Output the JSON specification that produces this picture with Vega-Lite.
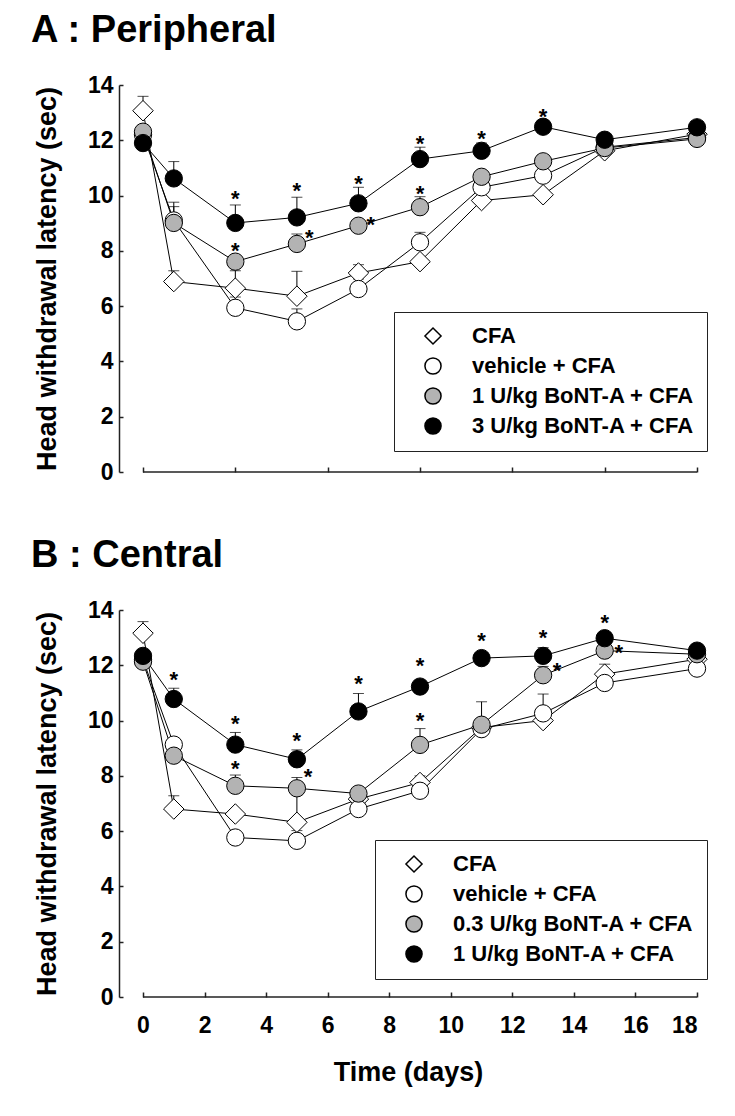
{
  "$schema": "https://vega.github.io/schema/vega-lite/v6.json",
  "background": "white",
  "padding": {"left": 31, "top": 12, "right": 20, "bottom": 10},
  "spacing": 53,
  "config": {
    "view": {"stroke": null},
    "font": "Liberation Sans",
    "axis": {"grid": false, "domainColor": "#222", "domainWidth": 1.5, "tickColor": "#222", "tickWidth": 1.5,
      "labelFont": "Liberation Sans", "labelFontWeight": "bold", "labelFontSize": 23, "labelColor": "black",
      "titleFont": "Liberation Sans", "titleFontWeight": "bold", "titleFontSize": 27, "titleColor": "black"},
    "legend": {"labelFont": "Liberation Sans", "labelFontSize": 22, "labelFontWeight": "bold", "labelColor": "black", "labelLimit": 400},
    "title": {"font": "Liberation Sans", "fontWeight": "bold", "fontSize": 38, "color": "black", "anchor": "start", "frame": "group", "dx": -88, "offset": 24}
  },
  "vconcat": [
    {
      "title": {"text": "A : Peripheral"},
      "width": 578,
      "height": 387,
      "data": {"values": [
        {"series": "CFA", "day": 0, "mean": 13.07, "upper": 13.59},
        {"series": "CFA", "day": 1, "mean": 6.89, "upper": 7.28},
        {"series": "CFA", "day": 3, "mean": 6.65, "upper": 7.28},
        {"series": "CFA", "day": 5, "mean": 6.36, "upper": 7.26},
        {"series": "CFA", "day": 7, "mean": 7.2, "upper": 7.5},
        {"series": "CFA", "day": 9, "mean": 7.61, "upper": null},
        {"series": "CFA", "day": 11, "mean": 9.82, "upper": null},
        {"series": "CFA", "day": 13, "mean": 10.03, "upper": null},
        {"series": "CFA", "day": 15, "mean": 11.62, "upper": null},
        {"series": "CFA", "day": 18, "mean": 12.22, "upper": null},
        {"series": "vehicle + CFA", "day": 0, "mean": 12.2, "upper": null},
        {"series": "vehicle + CFA", "day": 1, "mean": 9.1, "upper": 9.6},
        {"series": "vehicle + CFA", "day": 3, "mean": 5.94, "upper": 6.33},
        {"series": "vehicle + CFA", "day": 5, "mean": 5.45, "upper": 5.9},
        {"series": "vehicle + CFA", "day": 7, "mean": 6.62, "upper": 6.98},
        {"series": "vehicle + CFA", "day": 9, "mean": 8.31, "upper": 8.67},
        {"series": "vehicle + CFA", "day": 11, "mean": 10.3, "upper": null},
        {"series": "vehicle + CFA", "day": 13, "mean": 10.72, "upper": null},
        {"series": "vehicle + CFA", "day": 15, "mean": 11.75, "upper": null},
        {"series": "vehicle + CFA", "day": 18, "mean": 12.1, "upper": null},
        {"series": "1 U/kg BoNT-A + CFA", "day": 0, "mean": 12.31, "upper": null},
        {"series": "1 U/kg BoNT-A + CFA", "day": 1, "mean": 9.01, "upper": 9.76},
        {"series": "1 U/kg BoNT-A + CFA", "day": 3, "mean": 7.61, "upper": null},
        {"series": "1 U/kg BoNT-A + CFA", "day": 5, "mean": 8.25, "upper": 8.61},
        {"series": "1 U/kg BoNT-A + CFA", "day": 7, "mean": 8.91, "upper": null},
        {"series": "1 U/kg BoNT-A + CFA", "day": 9, "mean": 9.58, "upper": 9.96},
        {"series": "1 U/kg BoNT-A + CFA", "day": 11, "mean": 10.68, "upper": null},
        {"series": "1 U/kg BoNT-A + CFA", "day": 13, "mean": 11.24, "upper": null},
        {"series": "1 U/kg BoNT-A + CFA", "day": 15, "mean": 11.72, "upper": null},
        {"series": "1 U/kg BoNT-A + CFA", "day": 18, "mean": 12.05, "upper": null},
        {"series": "3 U/kg BoNT-A + CFA", "day": 0, "mean": 11.9, "upper": null},
        {"series": "3 U/kg BoNT-A + CFA", "day": 1, "mean": 10.62, "upper": 11.23},
        {"series": "3 U/kg BoNT-A + CFA", "day": 3, "mean": 9.01, "upper": 9.66},
        {"series": "3 U/kg BoNT-A + CFA", "day": 5, "mean": 9.21, "upper": 9.94},
        {"series": "3 U/kg BoNT-A + CFA", "day": 7, "mean": 9.72, "upper": 10.3},
        {"series": "3 U/kg BoNT-A + CFA", "day": 9, "mean": 11.32, "upper": 11.75},
        {"series": "3 U/kg BoNT-A + CFA", "day": 11, "mean": 11.62, "upper": 11.9},
        {"series": "3 U/kg BoNT-A + CFA", "day": 13, "mean": 12.49, "upper": 12.7},
        {"series": "3 U/kg BoNT-A + CFA", "day": 15, "mean": 12.02, "upper": null},
        {"series": "3 U/kg BoNT-A + CFA", "day": 18, "mean": 12.47, "upper": null}
      ]},
      "layer": [
        {"mark": {"type": "line", "color": "black", "strokeWidth": 1},
         "encoding": {
           "x": {"field": "day", "type": "quantitative", "scale": {"domain": [-0.78, 18], "nice": false, "zero": false},
                 "axis": {"title": null, "domain": false, "labels": false, "values": [0, 3, 6, 9, 12, 15, 18], "tickSize": -5}},
           "y": {"field": "mean", "type": "quantitative", "scale": {"domain": [0, 14], "nice": false},
                 "axis": {"title": "Head withdrawal latency (sec)", "values": [0, 2, 4, 6, 8, 10, 12, 14], "tickSize": -4, "labelPadding": 10, "titlePadding": 26}},
           "detail": {"field": "series"}}},
        {"transform": [{"filter": "datum.upper != null"}],
         "mark": {"type": "rule", "color": "black", "strokeWidth": 1},
         "encoding": {"x": {"field": "day", "type": "quantitative"}, "y": {"field": "mean", "type": "quantitative"}, "y2": {"field": "upper"}}},
        {"transform": [{"filter": "datum.upper != null"}],
         "mark": {"type": "tick", "orient": "horizontal", "color": "black", "thickness": 1, "size": 11},
         "encoding": {"x": {"field": "day", "type": "quantitative"}, "y": {"field": "upper", "type": "quantitative"}}},
        {"transform": [{"filter": "datum.series === 'CFA'"}],
         "mark": {"type": "point", "filled": true, "stroke": "black", "strokeWidth": 1, "opacity": 1, "size": 420},
         "encoding": {
           "x": {"field": "day", "type": "quantitative"},
           "y": {"field": "mean", "type": "quantitative"},
           "fill": {"field": "series", "type": "nominal",
             "scale": {"domain": ["CFA", "vehicle + CFA", "1 U/kg BoNT-A + CFA", "3 U/kg BoNT-A + CFA"], "range": ["white", "white", "#b3b3b3", "black"]},
             "legend": {"orient": "none", "legendX": 275, "legendY": 227, "title": null, "padding": 13, "strokeColor": "#222", "symbolSize": 260, "rowPadding": 6, "labelOffset": 28, "symbolOffset": 15,
               "encode": {"symbols": {"update": {"stroke": {"value": "black"}, "strokeWidth": {"value": 1}}}}}},
           "shape": {"field": "series", "type": "nominal",
             "scale": {"domain": ["CFA", "vehicle + CFA", "1 U/kg BoNT-A + CFA", "3 U/kg BoNT-A + CFA"], "range": ["diamond", "circle", "circle", "circle"]},
             "legend": {"orient": "none", "legendX": 275, "legendY": 227, "title": null, "padding": 13, "strokeColor": "#222", "symbolSize": 260, "rowPadding": 6, "labelOffset": 28, "symbolOffset": 15,
               "encode": {"symbols": {"update": {"stroke": {"value": "black"}, "strokeWidth": {"value": 1}}}}}}}},
        {"transform": [{"filter": "datum.series !== 'CFA'"}],
         "mark": {"type": "point", "filled": true, "stroke": "black", "strokeWidth": 1, "opacity": 1, "size": 300},
         "encoding": {
           "x": {"field": "day", "type": "quantitative"},
           "y": {"field": "mean", "type": "quantitative"},
           "fill": {"field": "series", "type": "nominal"},
           "shape": {"field": "series", "type": "nominal"}}},
        {"data": {"values": [
           {"day": 3, "y": 10.06}, {"day": 5, "y": 10.36}, {"day": 7, "y": 10.6},
           {"day": 9, "y": 12.05}, {"day": 11, "y": 12.23}, {"day": 13, "y": 13.04},
           {"day": 3, "y": 8.19}, {"day": 5.4, "y": 8.65}, {"day": 7.4, "y": 9.15}, {"day": 9, "y": 10.24}]},
         "mark": {"type": "text", "text": "*", "fontSize": 22, "fontWeight": "bold", "color": "black", "baseline": "alphabetic", "dy": 12.5},
         "encoding": {"x": {"field": "day", "type": "quantitative"}, "y": {"field": "y", "type": "quantitative"}}},
        {"data": {"values": [{"start": 0, "end": 18, "level": 0}]},
         "mark": {"type": "rule", "color": "#222", "strokeWidth": 1.5},
         "encoding": {"x": {"field": "start", "type": "quantitative"}, "x2": {"field": "end"}, "y": {"field": "level", "type": "quantitative"}}}
      ]
    },
    {
      "title": {"text": "B : Central"},
      "width": 578,
      "height": 387,
      "data": {"values": [
        {"series": "CFA", "day": 0, "mean": 13.16, "upper": 13.58},
        {"series": "CFA", "day": 1, "mean": 6.8, "upper": 7.28},
        {"series": "CFA", "day": 3, "mean": 6.62, "upper": null},
        {"series": "CFA", "day": 5, "mean": 6.32, "upper": 7.5},
        {"series": "CFA", "day": 7, "mean": 7.16, "upper": null},
        {"series": "CFA", "day": 9, "mean": 7.76, "upper": null},
        {"series": "CFA", "day": 11, "mean": 9.75, "upper": null},
        {"series": "CFA", "day": 13, "mean": 10.0, "upper": null},
        {"series": "CFA", "day": 15, "mean": 11.68, "upper": 12.04},
        {"series": "CFA", "day": 18, "mean": 12.22, "upper": null},
        {"series": "vehicle + CFA", "day": 0, "mean": 12.2, "upper": null},
        {"series": "vehicle + CFA", "day": 1, "mean": 9.13, "upper": null},
        {"series": "vehicle + CFA", "day": 3, "mean": 5.77, "upper": null},
        {"series": "vehicle + CFA", "day": 5, "mean": 5.65, "upper": 6.02},
        {"series": "vehicle + CFA", "day": 7, "mean": 6.8, "upper": null},
        {"series": "vehicle + CFA", "day": 9, "mean": 7.46, "upper": 8.0},
        {"series": "vehicle + CFA", "day": 11, "mean": 9.69, "upper": null},
        {"series": "vehicle + CFA", "day": 13, "mean": 10.26, "upper": 10.96},
        {"series": "vehicle + CFA", "day": 15, "mean": 11.36, "upper": null},
        {"series": "vehicle + CFA", "day": 18, "mean": 11.88, "upper": null},
        {"series": "0.3 U/kg BoNT-A + CFA", "day": 0, "mean": 12.13, "upper": null},
        {"series": "0.3 U/kg BoNT-A + CFA", "day": 1, "mean": 8.73, "upper": null},
        {"series": "0.3 U/kg BoNT-A + CFA", "day": 3, "mean": 7.64, "upper": 8.03},
        {"series": "0.3 U/kg BoNT-A + CFA", "day": 5, "mean": 7.55, "upper": 7.94},
        {"series": "0.3 U/kg BoNT-A + CFA", "day": 7, "mean": 7.36, "upper": null},
        {"series": "0.3 U/kg BoNT-A + CFA", "day": 9, "mean": 9.12, "upper": 9.71},
        {"series": "0.3 U/kg BoNT-A + CFA", "day": 11, "mean": 9.85, "upper": 10.68},
        {"series": "0.3 U/kg BoNT-A + CFA", "day": 13, "mean": 11.64, "upper": 11.96},
        {"series": "0.3 U/kg BoNT-A + CFA", "day": 15, "mean": 12.53, "upper": null},
        {"series": "0.3 U/kg BoNT-A + CFA", "day": 18, "mean": 12.4, "upper": null},
        {"series": "1 U/kg BoNT-A + CFA", "day": 0, "mean": 12.34, "upper": null},
        {"series": "1 U/kg BoNT-A + CFA", "day": 1, "mean": 10.78, "upper": 11.17},
        {"series": "1 U/kg BoNT-A + CFA", "day": 3, "mean": 9.13, "upper": 9.57},
        {"series": "1 U/kg BoNT-A + CFA", "day": 5, "mean": 8.6, "upper": 8.94},
        {"series": "1 U/kg BoNT-A + CFA", "day": 7, "mean": 10.33, "upper": 10.98},
        {"series": "1 U/kg BoNT-A + CFA", "day": 9, "mean": 11.23, "upper": null},
        {"series": "1 U/kg BoNT-A + CFA", "day": 11, "mean": 12.26, "upper": null},
        {"series": "1 U/kg BoNT-A + CFA", "day": 13, "mean": 12.34, "upper": 12.64},
        {"series": "1 U/kg BoNT-A + CFA", "day": 15, "mean": 12.98, "upper": null},
        {"series": "1 U/kg BoNT-A + CFA", "day": 18, "mean": 12.53, "upper": null}
      ]},
      "layer": [
        {"mark": {"type": "line", "color": "black", "strokeWidth": 1},
         "encoding": {
           "x": {"field": "day", "type": "quantitative", "scale": {"domain": [-0.78, 18], "nice": false, "zero": false},
                 "axis": {"title": "Time (days)", "domain": false, "values": [0, 2, 4, 6, 8, 10, 12, 14, 16, 18], "tickSize": -5, "labelPadding": 22, "titlePadding": 22}},
           "y": {"field": "mean", "type": "quantitative", "scale": {"domain": [0, 14], "nice": false},
                 "axis": {"title": "Head withdrawal latency (sec)", "values": [0, 2, 4, 6, 8, 10, 12, 14], "tickSize": -4, "labelPadding": 10, "titlePadding": 26}},
           "detail": {"field": "series"}}},
        {"transform": [{"filter": "datum.upper != null"}],
         "mark": {"type": "rule", "color": "black", "strokeWidth": 1},
         "encoding": {"x": {"field": "day", "type": "quantitative"}, "y": {"field": "mean", "type": "quantitative"}, "y2": {"field": "upper"}}},
        {"transform": [{"filter": "datum.upper != null"}],
         "mark": {"type": "tick", "orient": "horizontal", "color": "black", "thickness": 1, "size": 11},
         "encoding": {"x": {"field": "day", "type": "quantitative"}, "y": {"field": "upper", "type": "quantitative"}}},
        {"transform": [{"filter": "datum.series === 'CFA'"}],
         "mark": {"type": "point", "filled": true, "stroke": "black", "strokeWidth": 1, "opacity": 1, "size": 420},
         "encoding": {
           "x": {"field": "day", "type": "quantitative"},
           "y": {"field": "mean", "type": "quantitative"},
           "fill": {"field": "series", "type": "nominal",
             "scale": {"domain": ["CFA", "vehicle + CFA", "0.3 U/kg BoNT-A + CFA", "1 U/kg BoNT-A + CFA"], "range": ["white", "white", "#b3b3b3", "black"]},
             "legend": {"orient": "none", "legendX": 256, "legendY": 230, "title": null, "padding": 13, "strokeColor": "#222", "symbolSize": 260, "rowPadding": 6, "labelOffset": 28, "symbolOffset": 15,
               "encode": {"symbols": {"update": {"stroke": {"value": "black"}, "strokeWidth": {"value": 1}}}}}},
           "shape": {"field": "series", "type": "nominal",
             "scale": {"domain": ["CFA", "vehicle + CFA", "0.3 U/kg BoNT-A + CFA", "1 U/kg BoNT-A + CFA"], "range": ["diamond", "circle", "circle", "circle"]},
             "legend": {"orient": "none", "legendX": 256, "legendY": 230, "title": null, "padding": 13, "strokeColor": "#222", "symbolSize": 260, "rowPadding": 6, "labelOffset": 28, "symbolOffset": 15,
               "encode": {"symbols": {"update": {"stroke": {"value": "black"}, "strokeWidth": {"value": 1}}}}}}}},
        {"transform": [{"filter": "datum.series !== 'CFA'"}],
         "mark": {"type": "point", "filled": true, "stroke": "black", "strokeWidth": 1, "opacity": 1, "size": 300},
         "encoding": {
           "x": {"field": "day", "type": "quantitative"},
           "y": {"field": "mean", "type": "quantitative"},
           "fill": {"field": "series", "type": "nominal"},
           "shape": {"field": "series", "type": "nominal"}}},
        {"data": {"values": [
           {"day": 1, "y": 11.68}, {"day": 3, "y": 10.08}, {"day": 5, "y": 9.45},
           {"day": 7, "y": 11.52}, {"day": 9, "y": 12.16}, {"day": 11, "y": 13.06},
           {"day": 13, "y": 13.18}, {"day": 15, "y": 13.73},
           {"day": 3, "y": 8.45}, {"day": 5.36, "y": 8.15}, {"day": 9, "y": 10.17},
           {"day": 13.45, "y": 12.0}, {"day": 15.46, "y": 12.64}]},
         "mark": {"type": "text", "text": "*", "fontSize": 22, "fontWeight": "bold", "color": "black", "baseline": "alphabetic", "dy": 12.5},
         "encoding": {"x": {"field": "day", "type": "quantitative"}, "y": {"field": "y", "type": "quantitative"}}},
        {"data": {"values": [{"start": 0, "end": 18, "level": 0}]},
         "mark": {"type": "rule", "color": "#222", "strokeWidth": 1.5},
         "encoding": {"x": {"field": "start", "type": "quantitative"}, "x2": {"field": "end"}, "y": {"field": "level", "type": "quantitative"}}}
      ]
    }
  ],
  "resolve": {"scale": {"fill": "independent", "shape": "independent"}, "legend": {"fill": "independent", "shape": "independent"}}
}
